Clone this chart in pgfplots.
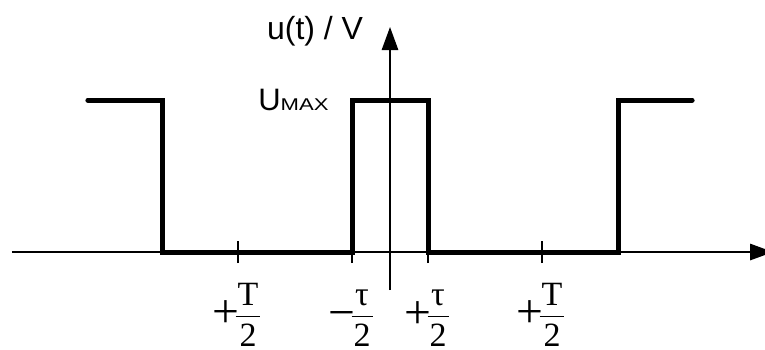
\documentclass[border=0pt]{standalone}
\usepackage{pgfplots}
\pgfplotsset{compat=1.18}
\usepackage{fontspec}
\usepackage{graphicx}
\usetikzlibrary{arrows.meta}
\setmainfont{Liberation Serif}
\newfontfamily\labelfont{Liberation Sans}
% sign followed by a stacked fraction "#2 over 2"
\newcommand\halfof[2]{%
  \hbox{\fontsize{34}{40}\selectfont
    \setbox1\hbox{#2\vphantom{T}}\setbox2\hbox{2}%
    \dimen0=\ifdim\wd1>\wd2 \wd1\else\wd2\fi\relax
    \advance\dimen0 by 4pt\relax
    \raisebox{18.8pt}{\makebox[20pt]{\scalebox{1.4}{\makebox[0pt]{#1}}}}%
    \vbox{\offinterlineskip
      \hbox to\dimen0{\hss\box1\hss}\kern10pt
      \hrule height1.6pt\kern7pt
      \hbox to\dimen0{\hss\box2\hss}}}}

\begin{document}
\begin{tikzpicture}
\begin{axis}[
  x=38pt, y=152pt,
  axis lines=middle,
  axis line style={line width=1.3pt, -{Triangle[length=23pt,width=16.5pt]}},
  inner axis line style={-{Triangle[length=23pt,width=16.5pt]}},
  xmin=-9.95, xmax=10.08, ymin=-0.25, ymax=1.48,
  xtick={-4,-1,1,4},
  xticklabels={\halfof{+}{T}, \halfof{−}{τ}, \halfof{+}{τ}, \halfof{+}{T}},
  ytick=\empty,
  major tick length=22pt,
  tick align=center,
  every tick/.style={black, line width=1.3pt},
  xticklabel style={anchor=center, yshift=-52pt, inner sep=0pt},
  clip=false,
]
% rectangular pulse train
\addplot[black, line width=5pt, line cap=round, line join=miter]
  coordinates {(-7.95,1) (-6,1) (-6,0) (-1,0) (-1,1) (1,1) (1,0) (6,0) (6,1) (7.95,1)};

\node[anchor=base west, inner sep=0pt, font=\labelfont\fontsize{32}{32}\selectfont]
  at (axis cs:-3.24,1.395) {u(t) / V};
\node[anchor=base west, inner sep=0pt, font=\labelfont\fontsize{31}{31}\selectfont]
  at (axis cs:-3.47,0.934) {U\scalebox{1.3}[1]{\fontsize{17}{17}\selectfont MAX}};

\coordinate (bb1) at (axis cs:-10.263,-0.638);
\coordinate (bb2) at (axis cs:9.868,1.658);
\end{axis}
\pgfresetboundingbox
\path[use as bounding box] (bb1) rectangle (bb2);
\end{tikzpicture}
\end{document}
